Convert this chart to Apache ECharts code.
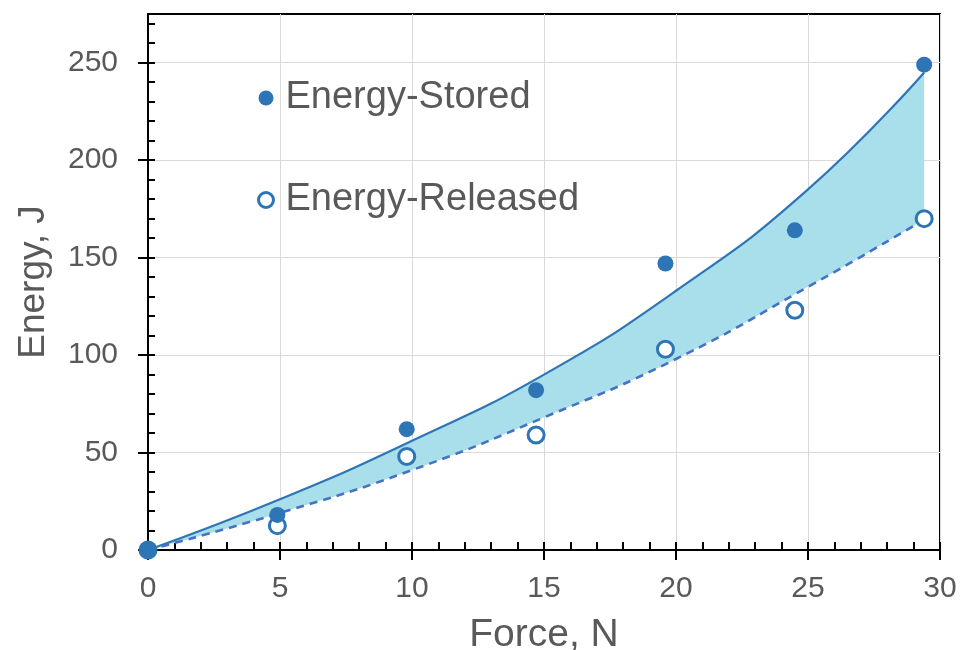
<!DOCTYPE html>
<html><head><meta charset="utf-8">
<script src="https://cdn.jsdelivr.net/npm/echarts@6/dist/echarts.min.js"></script>
<style>html,body{margin:0;padding:0;background:#fff}#c{width:965px;height:650px}</style>
</head><body><div id="c"></div>
<script>
// ---- data ----
const xTicks = [0, 5, 10, 15, 20, 25, 30];
const yTicks = [0, 50, 100, 150, 200, 250];
const force = [0, 4.9, 9.8, 14.7, 19.6, 24.5, 29.4];
const energyStored = [0, 18, 62, 82, 147, 164, 249];
const energyReleased = [0, 12.5, 48, 59, 103, 123, 170];
// trend curves
const fitX = [0, 5, 10, 15, 20, 25, 29.4];
const fitStored = [0, 26, 56, 90, 133, 185, 245];
const fitReleased = [0, 19, 41, 68, 98, 135, 169.5];

const FONT = 'Liberation Sans';
const TXT = '#595959';
const BLUE = '#2e75b6';
const DASH = '#4472c4';
const FILL = '#a9dfeb';

const pairs = (xs, ys) => xs.map((x, i) => [x, ys[i]]);
// value-first rows (y, x) so that stacking happens on the y value
const bandBase = fitX.map((x, i) => [fitReleased[i], x]);
const bandDiff = fitX.map((x, i) => [fitStored[i] - fitReleased[i], x]);

const chart = echarts.init(document.getElementById('c'), null, {renderer: 'canvas'});
const black = {color: '#000', width: 2};
chart.setOption({
  animation: false,
  backgroundColor: '#fff',
  grid: {left: 148, right: 25, top: 14, bottom: 100, show: true, borderColor: '#000', borderWidth: 2,
         containLabel: false, outerBoundsMode: 'none'},
  legend: {
    orient: 'vertical', left: 252, top: 72, itemWidth: 15, itemHeight: 15, itemGap: 60,
    selectedMode: false,
    textStyle: {fontSize: 38, color: TXT, fontFamily: FONT, lineHeight: 42, padding: [0, 0, 0, 7]},
    data: [
      {name: 'Energy-Stored', icon: 'circle', itemStyle: {color: BLUE, borderWidth: 0}},
      {name: 'Energy-Released', icon: 'circle', itemStyle: {color: '#fff', borderColor: BLUE, borderWidth: 3}}
    ]
  },
  xAxis: [
    {
      type: 'value', min: xTicks[0], max: xTicks[xTicks.length - 1], interval: 5, position: 'bottom',
      axisLine: {show: true, onZero: false, lineStyle: black},
      axisTick: {show: true, inside: false, length: 10, lineStyle: black},
      axisLabel: {fontSize: 30, color: TXT, fontFamily: FONT, margin: 24},
      splitLine: {show: true, lineStyle: {color: '#d9d9d9', width: 1}},
      name: 'Force, N', nameLocation: 'middle', nameGap: 66,
      nameTextStyle: {fontSize: 39, color: TXT, fontFamily: FONT}
    },
    {
      type: 'value', min: xTicks[0], max: xTicks[xTicks.length - 1], interval: 1, position: 'bottom',
      axisLine: {show: false}, axisTick: {show: true, inside: true, length: 8, lineStyle: black},
      axisLabel: {show: false}, splitLine: {show: false}
    }
  ],
  yAxis: [
    {
      type: 'value', min: 0, max: 275, interval: 50, position: 'left',
      axisLine: {show: true, onZero: false, lineStyle: black},
      axisTick: {show: true, inside: false, length: 10, lineStyle: black, customValues: yTicks},
      axisLabel: {fontSize: 30, color: TXT, fontFamily: FONT, margin: 30, customValues: yTicks},
      splitLine: {show: true, lineStyle: {color: '#d9d9d9', width: 1}},
      name: 'Energy, J', nameLocation: 'middle', nameGap: 96, nameRotate: 90,
      nameTextStyle: {fontSize: 37, color: TXT, fontFamily: FONT}
    },
    {
      type: 'value', min: 0, max: 275, interval: 10, position: 'left',
      axisLine: {show: false}, axisTick: {show: true, inside: true, length: 7, lineStyle: black},
      axisLabel: {show: false}, splitLine: {show: false}
    }
  ],
  series: [
    {
      type: 'line', stack: 'band', data: bandBase, encode: {x: 1, y: 0}, smooth: true, symbol: 'none',
      lineStyle: {opacity: 0}, silent: true, z: 1
    },
    {
      type: 'line', stack: 'band', data: bandDiff, encode: {x: 1, y: 0}, smooth: true, symbol: 'none',
      lineStyle: {opacity: 0}, areaStyle: {color: FILL, opacity: 1}, silent: true, z: 1
    },
    {
      type: 'line', data: pairs(fitX, fitStored), smooth: true, symbol: 'none',
      lineStyle: {color: BLUE, width: 2.2}, z: 2
    },
    {
      type: 'line', data: pairs(fitX, fitReleased), smooth: true, symbol: 'none',
      lineStyle: {color: DASH, width: 2.6, type: [8, 6]}, z: 2
    },
    {
      name: 'Energy-Released', type: 'scatter', data: pairs(force, energyReleased), symbol: 'circle', symbolSize: 16,
      itemStyle: {color: '#fff', borderColor: BLUE, borderWidth: 3, opacity: 1}, clip: false, z: 3
    },
    {
      name: 'Energy-Stored', type: 'scatter', data: pairs(force, energyStored), symbol: 'circle', symbolSize: 16,
      itemStyle: {color: BLUE, opacity: 1}, clip: false, z: 4
    }
  ]
});
</script></body></html>
